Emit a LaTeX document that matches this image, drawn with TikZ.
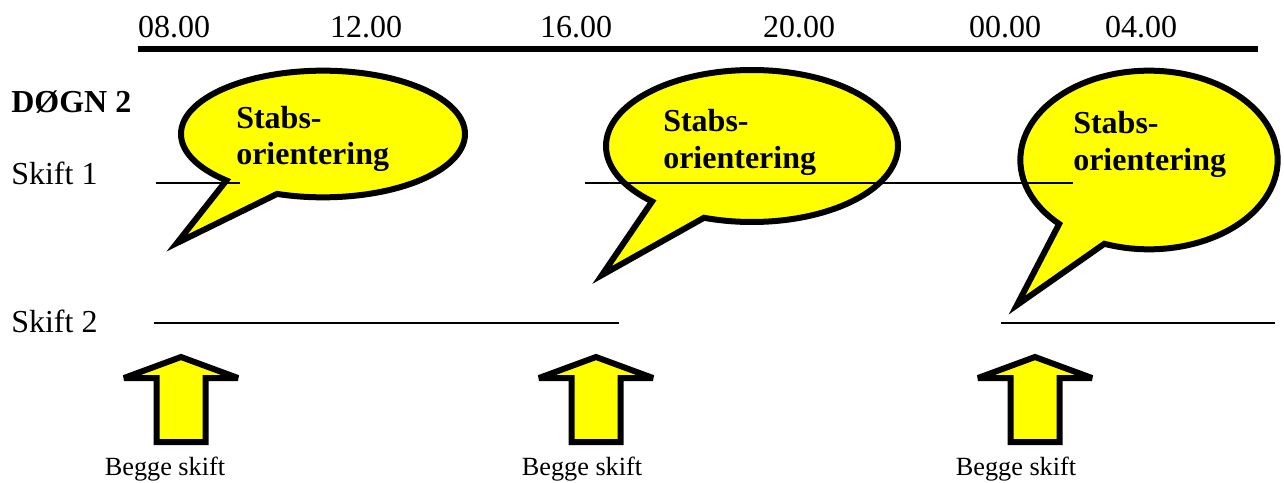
\documentclass[tikz,border=0pt]{standalone}
\usepackage{fontspec}
\setmainfont{Liberation Serif}
\usetikzlibrary{shapes.callouts}
\definecolor{bubbleyellow}{RGB}{255,255,0}
\tikzset{
  bubble/.style={ellipse callout,draw=black,fill=bubbleyellow,line width=4.5pt,inner sep=0pt,callout pointer arc=24},
  bigtext/.style={inner sep=0pt,font=\fontsize{24}{27}\selectfont},
  boldtext/.style={inner sep=0pt,font=\fontsize{24}{27}\selectfont\bfseries},
  smalltext/.style={inner sep=0pt,font=\fontsize{19.7}{22}\selectfont},
  shiftline/.style={line width=1.5pt},
  uparrow/.style={draw=black,fill=bubbleyellow,line width=4.5pt,line join=miter,miter limit=3}
}
\begin{document}
\begin{tikzpicture}[x=0.75pt,y=-0.75pt]
\useasboundingbox (0,0) rectangle (1284,482);
% time axis
\foreach \t/\x in {08.00/174,12.00/366,16.00/576,20.00/799,00.00/1005,04.00/1141}{
  \node[bigtext,anchor=base] (time\x) at (\x,37) {\t};
}
\draw[line width=4.5pt] (138,49)--(1258,49);
% row labels
\node[boldtext,anchor=base west] (dogn) at (11,112) {DØGN 2};
\node[bigtext,anchor=base west] (skift1) at (11,184) {Skift 1};
\node[bigtext,anchor=base west] (skift2) at (11,332) {Skift 2};
% speech bubbles
\node[bubble,minimum width=213pt,minimum height=95pt,callout absolute pointer={(177,243)}] (bubble1) at (323,134) {};
\node[bubble,minimum width=219pt,minimum height=114pt,callout absolute pointer={(602,275)}] (bubble2) at (752,146) {};
\node[bubble,minimum width=193pt,minimum height=134pt,callout absolute pointer={(1017,305)}] (bubble3) at (1149,160) {};
\foreach \n/\x/\ya/\yb in {1/236/128/164,2/663/131/168,3/1073/133/170}{
  \node[boldtext,anchor=base west] (stabs\n) at (\x,\ya) {Stabs-};
  \node[boldtext,anchor=base west] (orient\n) at (\x,\yb) {orientering};
}
% shifts
\draw[shiftline] (156,183)--(240,183);
\draw[shiftline] (585,183)--(1073,183);
\draw[shiftline] (154,323)--(619,323);
\draw[shiftline] (1001,323)--(1275,323);
% shift change arrows
\foreach \x in {181,596,1035}{
  \draw[uparrow] (\x,357)--(\x+57,378)--(\x+24.5,378)--(\x+24.5,442)
    --(\x-24.5,442)--(\x-24.5,378)--(\x-57,378)--cycle;
}
\foreach \x in {165,582,1016}{
  \node[smalltext,anchor=base] (begge\x) at (\x,475) {Begge skift};
}
\end{tikzpicture}
\end{document}
